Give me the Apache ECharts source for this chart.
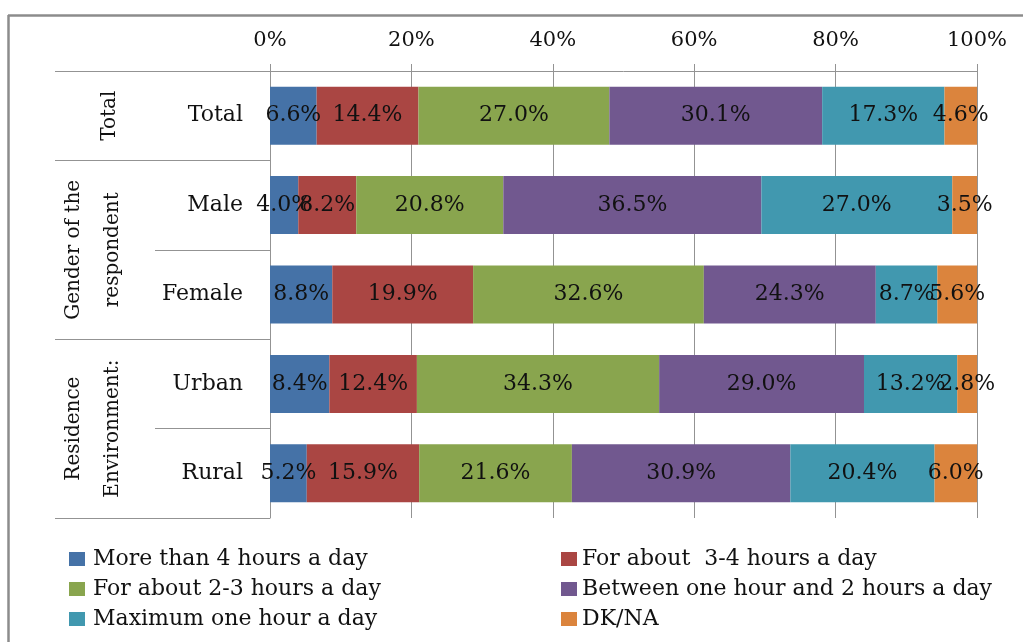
<!DOCTYPE html>
<html><head><meta charset="utf-8">
<script src="https://cdn.jsdelivr.net/npm/echarts@6/dist/echarts.min.js"></script>
<style>html,body{margin:0;padding:0;background:#fff}#c{width:1023px;height:642px}</style>
</head><body><div id="c"></div>
<script>
const categories = ['Total', 'Male', 'Female', 'Urban', 'Rural'];
const seriesNames = ['More than 4 hours a day', 'For about  3-4 hours a day', 'For about 2-3 hours a day',
  'Between one hour and 2 hours a day', 'Maximum one hour a day', 'DK/NA'];
const moreThan4 = [6.6, 4.0, 8.8, 8.4, 5.2];
const about3to4 = [14.4, 8.2, 19.9, 12.4, 15.9];
const about2to3 = [27.0, 20.8, 32.6, 34.3, 21.6];
const oneToTwo = [30.1, 36.5, 24.3, 29.0, 30.9];
const maxOne = [17.3, 27.0, 8.7, 13.2, 20.4];
const dkna = [4.6, 3.5, 5.6, 2.8, 6.0];
const groupLabels = ['Total', 'Gender of the\nrespondent', 'Residence\nEnvironment:'];
const groupRanges = [[0, 0], [1, 2], [3, 4]];
const xTicks = [0, 20, 40, 60, 80, 100];

const allSeries = [moreThan4, about3to4, about2to3, oneToTwo, maxOne, dkna];
const colors = ['#4572A7', '#AA4643', '#89A54E', '#71588F', '#4198AF', '#DB843D'];
const FONT = 'DejaVu Serif';
const GRAY = '#939393';
const totals = categories.map((c, i) => allSeries.reduce((s, arr) => s + arr[i], 0));

const chart = echarts.init(document.getElementById('c'), null, {renderer: 'canvas'});

const option = {
  animation: false,
  color: colors,
  grid: {left: 270, right: 46, top: 71, bottom: 124, containLabel: false},
  xAxis: {
    type: 'value', position: 'top', min: xTicks[0], max: xTicks[xTicks.length - 1],
    interval: xTicks[1] - xTicks[0],
    axisLine: {show: true, lineStyle: {color: GRAY, width: 1}},
    axisTick: {show: true, length: 7, inside: false, lineStyle: {color: GRAY}},
    splitLine: {show: true, lineStyle: {color: GRAY, width: 1}},
    axisLabel: {formatter: '{value}%', fontFamily: FONT, fontSize: 21, color: '#111', margin: 20}
  },
  yAxis: {
    type: 'category', data: categories, inverse: true,
    axisLine: {show: true, lineStyle: {color: GRAY, width: 1}},
    axisTick: {show: true, length: 115, inside: false, lineStyle: {color: GRAY}},
    axisLabel: {fontFamily: FONT, fontSize: 22, color: '#111', margin: 27}
  },
  legend: [
    {
      data: [seriesNames[0], seriesNames[2], seriesNames[4]],
      orient: 'vertical', left: 64, top: 543, icon: 'rect',
      itemWidth: 16, itemHeight: 14, itemGap: 8,
      textStyle: {fontFamily: FONT, fontSize: 22, color: '#111', lineHeight: 20, padding: [0, 0, 0, 3]}
    },
    {
      data: [seriesNames[1], seriesNames[3], seriesNames[5]],
      orient: 'vertical', left: 556, top: 543, icon: 'rect',
      itemWidth: 16, itemHeight: 14, itemGap: 8,
      textStyle: {fontFamily: FONT, fontSize: 22, color: '#111', lineHeight: 20, padding: [0, 0, 0, 0]}
    }
  ],
  series: allSeries.map((arr, si) => ({
    name: seriesNames[si], type: 'bar', stack: 'total', barWidth: 58,
    data: arr.map((v, i) => ({value: v / totals[i] * 100, raw: v})),
    label: {
      show: true, position: 'inside', color: '#111', fontFamily: FONT, fontSize: 22,
      formatter: p => p.data.raw.toFixed(1) + '%'
    },
    emphasis: {disabled: true}
  }))
};
chart.setOption(option);

// Decorations derived from the axis scale
const c0 = chart.convertToPixel({yAxisIndex: 0}, categories[0]);
const c1 = chart.convertToPixel({yAxisIndex: 0}, categories[1]);
const band = c1 - c0;
const bandTop = i => chart.convertToPixel({yAxisIndex: 0}, categories[i]) - band / 2;
const bandBottom = i => chart.convertToPixel({yAxisIndex: 0}, categories[i]) + band / 2;
const x0 = chart.convertToPixel({xAxisIndex: 0}, 0);
const tickStart = x0 - 115;
const graphics = [];
const boundaries = new Set();
groupRanges.forEach(([a, b]) => { boundaries.add(bandTop(a)); boundaries.add(bandBottom(b)); });
boundaries.forEach(y => {
  graphics.push({type: 'line', shape: {x1: 55, y1: Math.round(y) + 0.5, x2: tickStart, y2: Math.round(y) + 0.5},
    style: {stroke: GRAY, lineWidth: 1}, silent: true});
});
groupRanges.forEach(([a, b], gi) => {
  const cy = (bandTop(a) + bandBottom(b)) / 2;
  const multi = groupLabels[gi].indexOf('\n') >= 0;
  graphics.push({
    type: 'text', x: multi ? 93 : 110, y: cy, rotation: Math.PI / 2, silent: true,
    style: {text: groupLabels[gi], align: 'center', verticalAlign: 'middle',
      fontFamily: FONT, fontSize: 20, lineHeight: 39, fill: '#111'}
  });
});
// outer frame
graphics.push({type: 'line', shape: {x1: 8, y1: 15.5, x2: 1023, y2: 15.5}, style: {stroke: '#8c8c8c', lineWidth: 2.5}, silent: true});
graphics.push({type: 'line', shape: {x1: 8.5, y1: 15, x2: 8.5, y2: 642}, style: {stroke: '#8c8c8c', lineWidth: 2.5}, silent: true});
chart.setOption({graphic: graphics});
</script>
</body></html>
